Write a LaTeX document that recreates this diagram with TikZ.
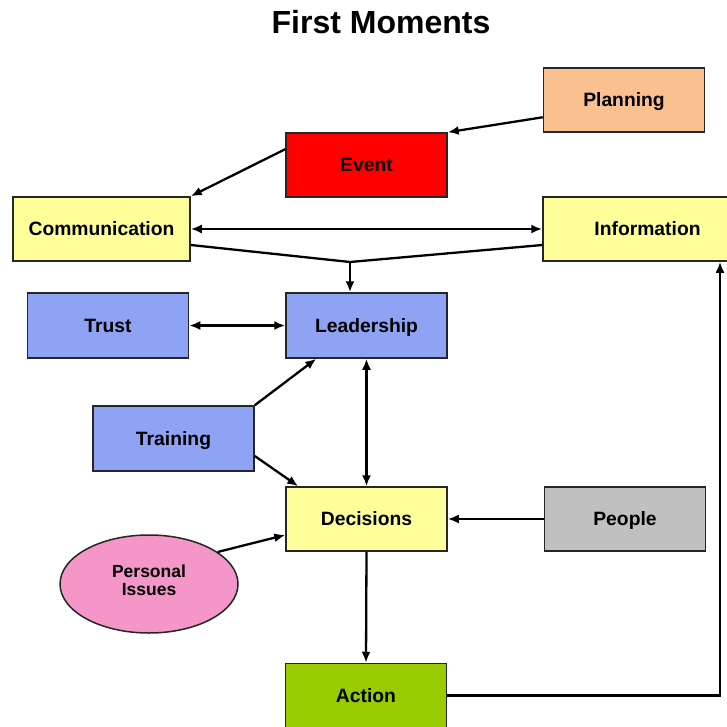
\documentclass[tikz,border=0pt]{standalone}
\usepackage{fontspec}
\setmainfont{Liberation Sans}
\usetikzlibrary{positioning}
\usetikzlibrary{arrows.meta,shapes.geometric}

\definecolor{planorange}{RGB}{250,192,144}
\definecolor{eventred}{RGB}{255,0,0}
\definecolor{paleyellow}{RGB}{255,255,153}
\definecolor{softblue}{RGB}{143,163,245}
\definecolor{peoplegray}{RGB}{192,192,192}
\definecolor{issuepink}{RGB}{244,150,200}
\definecolor{actiongreen}{RGB}{153,204,0}

\begin{document}
\begin{tikzpicture}[x=1pt,y=-1pt,
  box/.style={rectangle,draw=black!85,line width=1.5pt,minimum width=161pt,minimum height=64pt,inner sep=0pt,
              text height=13.8pt,text depth=0pt,font=\fontsize{19.3}{23}\selectfont\bfseries},
  arr/.style={line width=2.3pt,-{Latex[length=11pt,width=9pt]}},
  darr/.style={line width=2.3pt,{Latex[length=11pt,width=9pt]}-{Latex[length=11pt,width=9pt]}}]

\useasboundingbox[fill=white] (0,0) rectangle (727,727);

\node[font=\fontsize{32}{36}\selectfont\bfseries] (title) at (381,22) {First Moments};

% top rows

\node[box, fill=planorange] (plan) at (624,100) {Planning};

\node[box, fill=eventred] (event) at (366.5,165) {Event};

\node[box, fill=paleyellow, minimum width=177pt] (comm) at (101.5,229) {Communication};

\node[box, fill=paleyellow, minimum width=209pt] (info) at (647.5,229) {Information};

% middle

\node[box, fill=softblue, minimum height=65pt] (lead) at (366.5,325.5) {Leadership};

\node[box, fill=softblue, minimum height=65pt, left=96pt of lead] (trust) {Trust};

\node[box, fill=softblue, minimum height=65pt] (train) at (173.5,438.5) {Training};

\node[box, fill=paleyellow] (dec) at (366.5,519) {Decisions};

\node[box, fill=peoplegray, right=96pt of dec] (people) {People};

\node[ellipse, draw=black!85, line width=1.5pt, fill=issuepink, minimum width=178pt, minimum height=98pt,
      align=center, text height=22pt, text depth=0pt,
      font=\fontsize{17.5}{18}\selectfont\bfseries] (pers) at (149,584) {Personal\\Issues};

\node[box, fill=actiongreen] (act) at (366,695.5) {Action};

% connectors

\draw[arr] (plan.192) -- (event.north east);

\draw[arr] (event.169) -- (comm.north east);

\draw[darr] (comm.east) -- (info.west);

\coordinate (meet) at (350,262);

\draw[line width=2.3pt] ([yshift=-16pt]comm.east) -- (meet) -- ([yshift=-16pt]info.west);

\draw[arr] (meet) -- (lead.north -| meet);

\draw[darr] (trust.east) -- (lead.west);

\draw[arr] (train.north east) -- ([xshift=31pt]lead.south west);

\draw[arr] ([yshift=-17.5pt]train.east) -- ([xshift=13pt]dec.north west);

\draw[darr] (lead.south) -- (dec.north);

\draw[arr] (people.west) -- (dec.east);

\draw[arr] (pers.25) -- ([yshift=-16pt]dec.west);

\draw[arr] (dec.south) -- (act.north);

\draw[arr] (act.east) -| ([xshift=72.5pt]info.south);

\end{tikzpicture}
\end{document}
